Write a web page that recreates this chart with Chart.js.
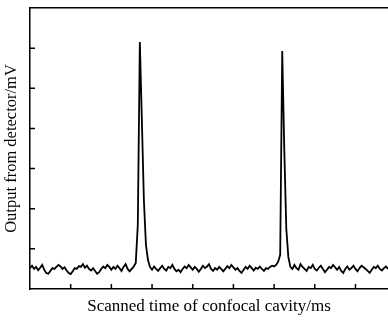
<!DOCTYPE html>
<html>
<head>
<meta charset="utf-8">
<script src="https://cdn.jsdelivr.net/npm/chart.js@4.4.1/dist/chart.umd.min.js"></script>
<style>
  html, body { margin: 0; padding: 0; background: #fff; }
  #scan { display: block; }
</style>
</head>
<body>
<canvas id="scan" width="388" height="322"></canvas>
<script>
// ===== Data =====
// detector output sampled every 0.05 ms, two transmission peaks of the confocal cavity
const sampleStep = 0.05;
const signal = [
  0.52, 0.58, 0.50, 0.55, 0.47, 0.53, 0.60, 0.48, 0.40, 0.38,
  0.45, 0.52, 0.50, 0.55, 0.60, 0.56, 0.50, 0.54, 0.46, 0.40,
  0.37, 0.44, 0.52, 0.50, 0.57, 0.55, 0.62, 0.53, 0.58, 0.50,
  0.46, 0.52, 0.45, 0.38, 0.42, 0.50, 0.56, 0.52, 0.60, 0.55,
  0.48, 0.55, 0.50, 0.58, 0.52, 0.45, 0.55, 0.62, 0.50, 0.44,
  0.50, 0.56,
  0.65, 1.60, 6.15, 4.20, 2.20, 1.10, 0.72,            // first peak
  0.55, 0.48, 0.56, 0.50, 0.45, 0.52, 0.58, 0.50, 0.46, 0.55, 0.52,
  0.60, 0.50, 0.44, 0.48, 0.42, 0.50, 0.56, 0.52, 0.60, 0.54,
  0.48, 0.55, 0.50, 0.43, 0.50, 0.58, 0.52, 0.56, 0.62, 0.50,
  0.45, 0.52, 0.48, 0.55, 0.50, 0.44, 0.50, 0.57, 0.52, 0.60,
  0.54, 0.48, 0.52, 0.45, 0.40, 0.48, 0.55, 0.50, 0.58, 0.52,
  0.46, 0.53, 0.50, 0.56, 0.50, 0.45, 0.52, 0.50, 0.55, 0.58, 0.56,
  0.60, 0.68, 0.85, 5.93, 3.50, 1.50, 0.80, 0.55,      // second peak
  0.50, 0.60, 0.52, 0.48, 0.62, 0.55, 0.50, 0.45, 0.55, 0.52, 0.60,
  0.50, 0.46, 0.53, 0.58, 0.50, 0.42, 0.48, 0.55, 0.52, 0.60,
  0.54, 0.48, 0.55, 0.45, 0.40, 0.50, 0.56, 0.48, 0.52, 0.58,
  0.50, 0.44, 0.52, 0.58, 0.54, 0.50, 0.45, 0.40, 0.48, 0.55,
  0.52, 0.58, 0.50, 0.46, 0.52, 0.56, 0.50
];
const timeLabels = signal.map((v, i) => (i * sampleStep).toFixed(2));
const xTickEvery = 20;          // one x tick mark per 1 ms
const yMin = 0, yMax = 7, yStep = 1;

const ink = "#000";
const serif = "'Liberation Serif', 'DejaVu Serif', serif";

// ===== Inward tick marks (no tick labels in the original) =====
const inwardTicks = {
  id: "inwardTicks",
  afterDraw(chart) {
    const ctx = chart.ctx;
    const x = chart.scales.x, y = chart.scales.y;
    const area = chart.chartArea;
    ctx.save();
    ctx.strokeStyle = ink;
    ctx.lineWidth = 1.5;
    ctx.beginPath();
    for (let i = xTickEvery; i < timeLabels.length; i += xTickEvery) {
      const px = x.getPixelForValue(i);
      ctx.moveTo(px, area.bottom);
      ctx.lineTo(px, area.bottom - 5);
    }
    for (let v = yMin + yStep; v < yMax; v += yStep) {
      const py = y.getPixelForValue(v);
      ctx.moveTo(area.left, py);
      ctx.lineTo(area.left + 5, py);
    }
    ctx.stroke();
    ctx.restore();
  }
};

// ===== Chart =====
new Chart(document.getElementById("scan"), {
  type: "line",
  data: {
    labels: timeLabels,
    datasets: [{
      data: signal,
      borderColor: ink,
      borderWidth: 1.8,
      pointRadius: 0,
      tension: 0,
      fill: false
    }]
  },
  options: {
    responsive: false,
    animation: false,
    layout: { padding: { top: 8, right: 0, bottom: 0, left: 0 } },
    plugins: { legend: { display: false }, tooltip: { enabled: false } },
    scales: {
      x: {
        type: "category",
        position: "bottom",
        ticks: { display: false },
        grid: { display: true, drawOnChartArea: false, drawTicks: false },
        border: { display: true, color: ink, width: 1.5 },
        title: {
          display: true,
          text: "Scanned time of confocal cavity/ms",
          color: ink,
          font: { family: serif, size: 17 },
          padding: { top: 7.6, bottom: 5 }
        }
      },
      xTop: {
        type: "linear",
        position: "top",
        min: 0, max: 1,
        ticks: { display: false },
        grid: { display: true, drawOnChartArea: false, drawTicks: false },
        border: { display: true, color: ink, width: 1.5 }
      },
      y: {
        min: yMin, max: yMax,
        ticks: { display: false, stepSize: yStep },
        grid: { display: true, drawOnChartArea: false, drawTicks: false },
        border: { display: true, color: ink, width: 1.5 },
        title: {
          display: true,
          text: "Output from detector/mV",
          color: ink,
          font: { family: serif, size: 16.5 },
          padding: { top: 2.1, bottom: 8.1 }
        }
      }
    }
  },
  plugins: [inwardTicks]
});
</script>
</body>
</html>
